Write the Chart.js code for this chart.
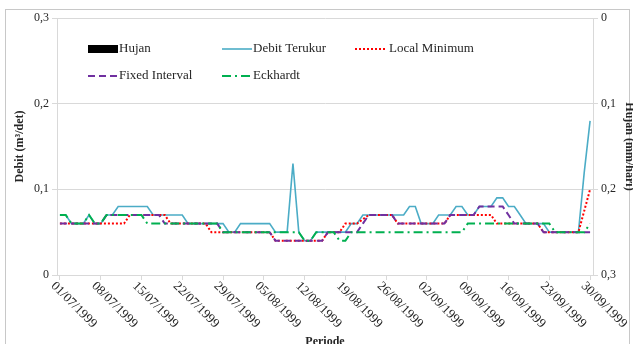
<!DOCTYPE html>
<html>
<head>
<meta charset="utf-8">
<script src="https://cdn.jsdelivr.net/npm/chart.js@4"></script>
<style>
  html, body { margin: 0; padding: 0; background: #fff; }
  #wrap { position: relative; width: 633px; height: 344px; overflow: hidden; }
  #frame { position: absolute; left: 5px; top: 9px; width: 625px; height: 345px; border: 1px solid #c8c8c8; box-sizing: border-box; }
  #chart { position: absolute; left: 0; top: 0; }
</style>
</head>
<body>
<div id="wrap">
  <div id="frame"></div>
  <canvas id="chart" width="633" height="344"></canvas>
</div>
<script>
// daily categories, 01/07/1999 .. 30/09/1999
const dates = [];
for (let i = 0; i < 92; i++) {
  const d = new Date(1999, 6, 1 + i);
  dates.push(String(d.getDate()).padStart(2, '0') + '/' +
             String(d.getMonth() + 1).padStart(2, '0') + '/' + d.getFullYear());
}

// rainfall (mm/hari) - no rain in this period
const hujan = [
  0, 0, 0, 0, 0, 0, 0, 0, 0, 0, 0, 0, 0, 0, 0, 0, 0, 0, 0, 0, 0, 0, 0,
  0, 0, 0, 0, 0, 0, 0, 0, 0, 0, 0, 0, 0, 0, 0, 0, 0, 0, 0, 0, 0, 0, 0,
  0, 0, 0, 0, 0, 0, 0, 0, 0, 0, 0, 0, 0, 0, 0, 0, 0, 0, 0, 0, 0, 0, 0,
  0, 0, 0, 0, 0, 0, 0, 0, 0, 0, 0, 0, 0, 0, 0, 0, 0, 0, 0, 0, 0, 0, 0
];

// measured discharge (m3/det)
const debitTerukur = [
  0.07, 0.07, 0.06, 0.06, 0.06, 0.07, 0.06, 0.06, 0.07, 0.07,
  0.08, 0.08, 0.08, 0.08, 0.08, 0.08, 0.07, 0.07, 0.07, 0.07,
  0.07, 0.07, 0.06, 0.06, 0.06, 0.06, 0.06, 0.06, 0.06, 0.05,
  0.05, 0.06, 0.06, 0.06, 0.06, 0.06, 0.06, 0.05, 0.05, 0.05,
  0.13, 0.05, 0.04, 0.04, 0.05, 0.05, 0.05, 0.05, 0.05, 0.05,
  0.06, 0.06, 0.07, 0.07, 0.07, 0.07, 0.07, 0.07, 0.07, 0.07,
  0.08, 0.08, 0.06, 0.06, 0.06, 0.07, 0.07, 0.07, 0.08, 0.08,
  0.07, 0.07, 0.08, 0.08, 0.08, 0.09, 0.09, 0.08, 0.08, 0.07,
  0.06, 0.06, 0.06, 0.06, 0.05, 0.05, 0.05, 0.05, 0.05, 0.05,
  0.12, 0.18
];

// baseflow separation results
const localMinimum = [
  0.06, 0.06, 0.06, 0.06, 0.06, 0.06, 0.06, 0.06, 0.06, 0.06,
  0.06, 0.06, 0.07, 0.07, 0.07, 0.07, 0.07, 0.07, 0.07, 0.06,
  0.06, 0.06, 0.06, 0.06, 0.06, 0.06, 0.05, 0.05, 0.05, 0.05,
  0.05, 0.05, 0.05, 0.05, 0.05, 0.05, 0.05, 0.04, 0.04, 0.04,
  0.04, 0.04, 0.04, 0.04, 0.04, 0.04, 0.05, 0.05, 0.05, 0.06,
  0.06, 0.06, 0.065, 0.07, 0.07, 0.07, 0.07, 0.07, 0.06, 0.06,
  0.06, 0.06, 0.06, 0.06, 0.06, 0.06, 0.06, 0.07, 0.07, 0.07,
  0.07, 0.07, 0.07, 0.07, 0.07, 0.06, 0.06, 0.06, 0.06, 0.06,
  0.06, 0.06, 0.06, 0.05, 0.05, 0.05, 0.05, 0.05, 0.05, 0.05,
  0.075, 0.10
];

const fixedInterval = [
  0.06, 0.06, 0.06, 0.06, 0.06, 0.06, 0.06, 0.06, 0.07, 0.07,
  0.07, 0.07, 0.07, 0.07, 0.07, 0.07, 0.07, 0.07, 0.06, 0.06,
  0.06, 0.06, 0.06, 0.06, 0.06, 0.06, 0.06, 0.06, 0.05, 0.05,
  0.05, 0.05, 0.05, 0.05, 0.05, 0.05, 0.05, 0.04, 0.04, 0.04,
  0.04, 0.04, 0.04, 0.04, 0.04, 0.04, 0.05, 0.05, 0.05, 0.05,
  0.05, 0.05, 0.06, 0.07, 0.07, 0.07, 0.07, 0.07, 0.06, 0.06,
  0.06, 0.06, 0.06, 0.06, 0.06, 0.06, 0.06, 0.07, 0.07, 0.07,
  0.07, 0.07, 0.08, 0.08, 0.08, 0.08, 0.08, 0.07, 0.06, 0.06,
  0.06, 0.06, 0.06, 0.05, 0.05, 0.05, 0.05, 0.05, 0.05, 0.05,
  0.05, 0.05
];

const eckhardt = [
  0.07, 0.07, 0.06, 0.06, 0.06, 0.07, 0.06, 0.06, 0.07, 0.07,
  0.07, 0.07, 0.07, 0.07, 0.07, 0.06, 0.06, 0.06, 0.06, 0.06,
  0.06, 0.06, 0.06, 0.06, 0.06, 0.06, 0.06, 0.06, 0.05, 0.05,
  0.05, 0.05, 0.05, 0.05, 0.05, 0.05, 0.05, 0.05, 0.05, 0.05,
  0.05, 0.05, 0.04, 0.04, 0.05, 0.05, 0.05, 0.05, 0.04, 0.04,
  0.05, 0.05, 0.05, 0.05, 0.05, 0.05, 0.05, 0.05, 0.05, 0.05,
  0.05, 0.05, 0.05, 0.05, 0.05, 0.05, 0.05, 0.05, 0.05, 0.05,
  0.06, 0.06, 0.06, 0.06, 0.06, 0.06, 0.06, 0.06, 0.06, 0.06,
  0.06, 0.06, 0.06, 0.06, 0.06, 0.05, 0.05, 0.05, 0.05, 0.05,
  0.05, 0.06
];

const FONT = "'Liberation Serif', 'Times New Roman', serif";
const TEXT = '#262626';
const GRID = '#d9d9d9';

Chart.defaults.font.family = FONT;
Chart.defaults.font.size = 12;
Chart.defaults.color = TEXT;

const fmtComma = v => String(Math.round(v * 10) / 10).replace('.', ',');

// legend drawn inside the plot area, two rows
const legendSlots = [
  { ds: 0, x: 88, y: 49 },
  { ds: 1, x: 222, y: 49 },
  { ds: 2, x: 355, y: 49 },
  { ds: 3, x: 88, y: 76 },
  { ds: 4, x: 222, y: 76 }
];

const insideLegend = {
  id: 'insideLegend',
  afterDraw(chart) {
    const ctx = chart.ctx;
    ctx.save();
    ctx.font = '13px ' + FONT;
    ctx.textBaseline = 'middle';
    legendSlots.forEach(s => {
      const ds = chart.data.datasets[s.ds];
      if (ds.type === 'bar') {
        ctx.fillStyle = ds.backgroundColor;
        ctx.fillRect(s.x, s.y - 4, 30, 8);
      } else {
        ctx.strokeStyle = ds.borderColor;
        ctx.lineWidth = ds.borderWidth;
        ctx.setLineDash(ds.borderDash || []);
        ctx.beginPath();
        ctx.moveTo(s.x, s.y);
        ctx.lineTo(s.x + 30, s.y);
        ctx.stroke();
      }
      ctx.setLineDash([]);
      ctx.fillStyle = TEXT;
      ctx.fillText(ds.label, s.x + (s.ds === 2 ? 34 : 31), s.y);
    });
    ctx.restore();
  }
};

// slanted date labels, one per week, reading downward to the right
const weekLabels = {
  id: 'weekLabels',
  afterDraw(chart) {
    const xs = chart.scales.x;
    const ctx = chart.ctx;
    ctx.save();
    ctx.font = '13px ' + FONT;
    ctx.fillStyle = TEXT;
    ctx.textAlign = 'left';
    ctx.textBaseline = 'middle';
    for (let i = 0; i < dates.length; i += 7) {
      const x = xs.getPixelForValue(i);
      ctx.save();
      ctx.translate(x - 7, xs.top + 9);
      ctx.rotate(Math.PI / 4);
      ctx.fillText(dates[i], 0, 0);
      ctx.restore();
    }
    ctx.restore();
  }
};

new Chart(document.getElementById('chart'), {
  type: 'line',
  data: {
    labels: dates,
    datasets: [
      {
        type: 'bar',
        label: 'Hujan',
        data: hujan,
        yAxisID: 'y2',
        backgroundColor: '#000000',
        order: 5
      },
      {
        label: 'Debit Terukur',
        data: debitTerukur,
        borderColor: '#4bacc6',
        borderWidth: 1.6,
        order: 4
      },
      {
        label: 'Local Minimum',
        data: localMinimum,
        borderColor: '#ff0000',
        borderWidth: 2,
        borderDash: [2, 2],
        order: 3
      },
      {
        label: 'Fixed Interval',
        data: fixedInterval,
        borderColor: '#7030a0',
        borderWidth: 2,
        borderDash: [7, 4],
        order: 2
      },
      {
        label: 'Eckhardt',
        data: eckhardt,
        borderColor: '#00b050',
        borderWidth: 2,
        borderDash: [9, 4, 2, 4],
        order: 1
      }
    ]
  },
  options: {
    responsive: false,
    animation: false,
    devicePixelRatio: 1,
    elements: {
      line: { tension: 0, fill: false },
      point: { radius: 0, hoverRadius: 0 }
    },
    layout: { padding: { left: 9, right: 0, top: 18, bottom: 0 } },
    plugins: {
      legend: { display: false },
      tooltip: { enabled: false }
    },
    scales: {
      x: {
        type: 'category',
        offset: true,
        grid: {
          offset: false,
          drawOnChartArea: false,
          tickLength: 5,
          color: c => (c.index % 7 === 0 ? GRID : 'rgba(0,0,0,0)')
        },
        border: { color: GRID },
        ticks: { display: false },
        title: {
          display: true,
          text: 'Periode',
          font: { size: 12, weight: 'bold' },
          padding: { top: 4, bottom: -5 }
        },
        afterFit: s => { s.height = 69; }
      },
      y: {
        position: 'left',
        min: 0,
        max: 0.3,
        ticks: { stepSize: 0.1, callback: fmtComma, padding: 3 },
        grid: { color: GRID, tickLength: 5 },
        border: { color: GRID },
        title: {
          display: true,
          text: 'Debit (m³/det)',
          font: { size: 12, weight: 'bold' }
        },
        afterFit: s => { s.width = 48; }
      },
      y2: {
        position: 'right',
        reverse: true,
        min: 0,
        max: 0.3,
        ticks: { stepSize: 0.1, callback: fmtComma, padding: 3 },
        grid: { drawOnChartArea: false, color: GRID, tickLength: 5 },
        border: { color: GRID },
        title: {
          display: true,
          text: 'Hujan (mm/hari)',
          font: { size: 12, weight: 'bold' },
          padding: { top: -3, bottom: 4 }
        },
        afterFit: s => { s.width = 40; }
      }
    }
  },
  plugins: [insideLegend, weekLabels]
});
</script>
</body>
</html>
